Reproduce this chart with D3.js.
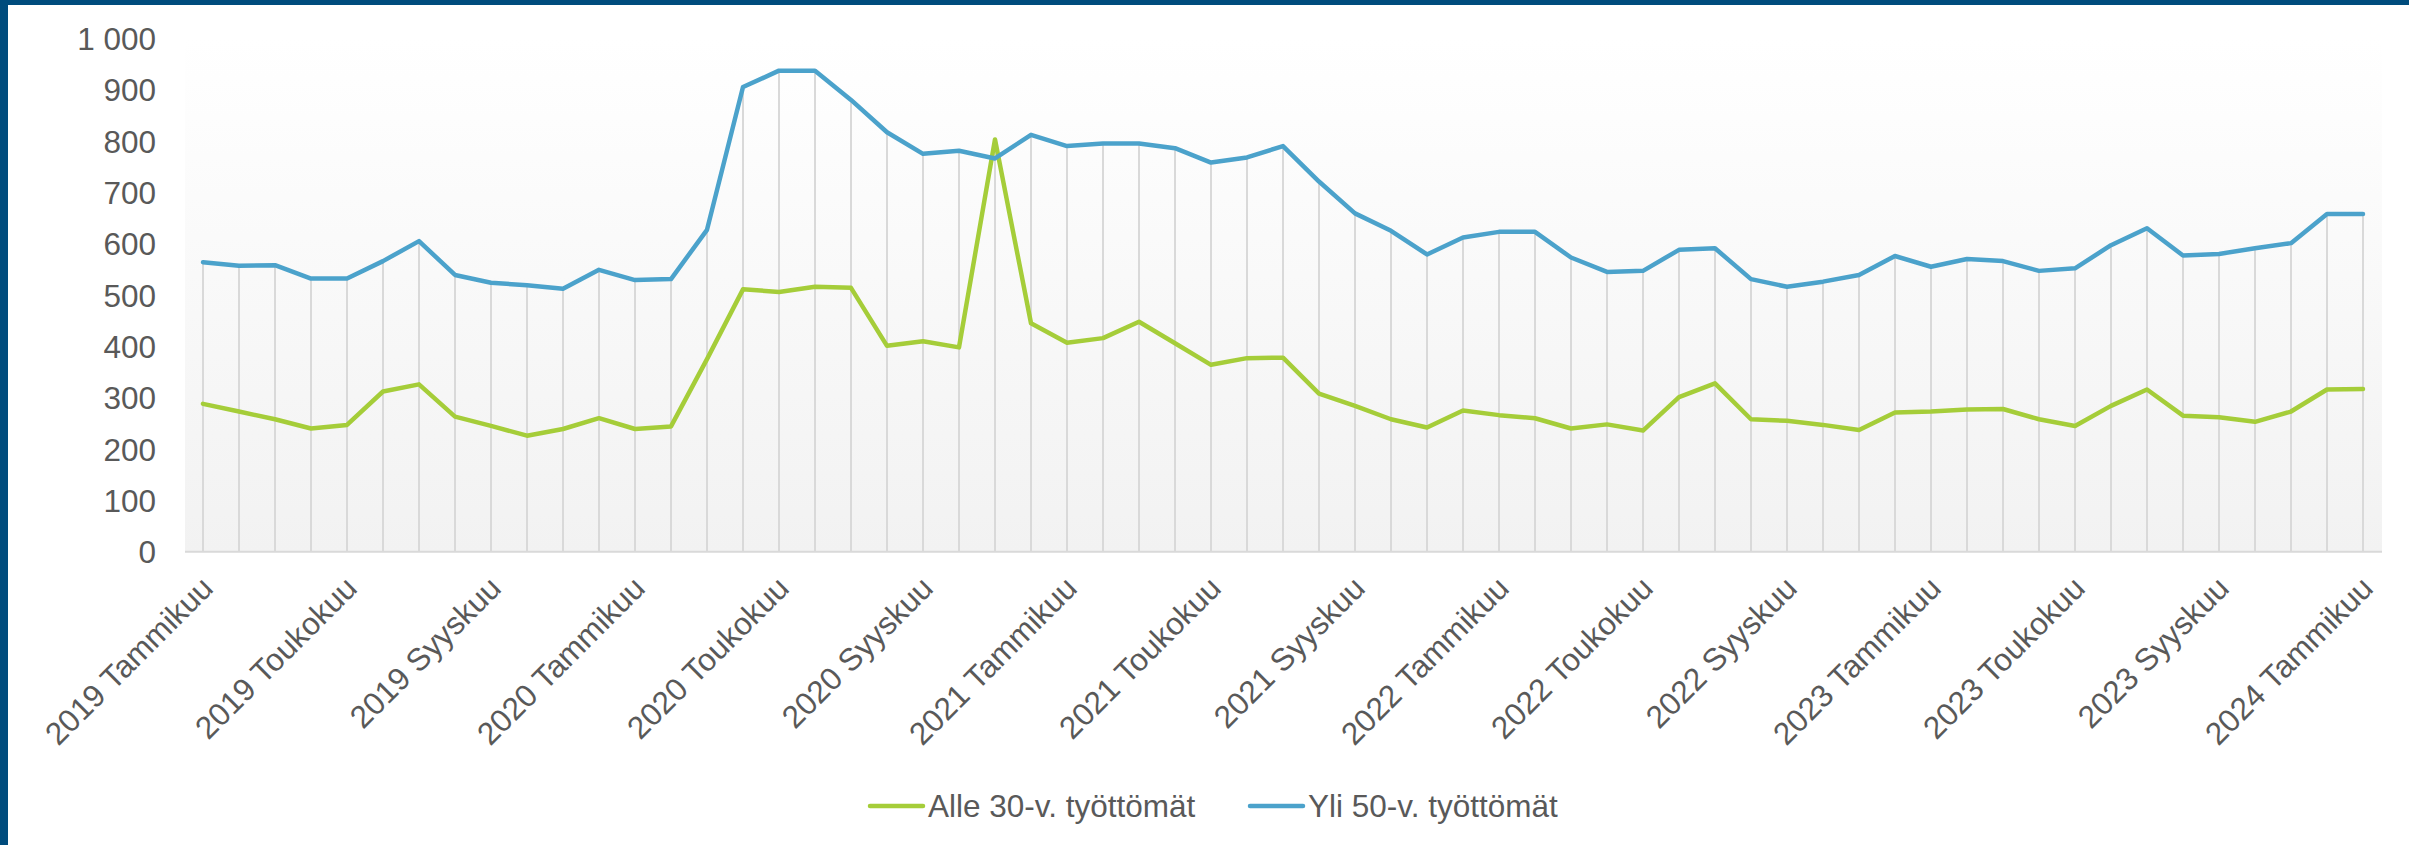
<!DOCTYPE html>
<html><head><meta charset="utf-8">
<script src="https://cdn.jsdelivr.net/npm/d3@7"></script>
<style>
html,body{margin:0;padding:0;background:#fff;}
svg{display:block;font-family:"Liberation Sans",Arial,sans-serif;}
</style></head>
<body>
<svg id="chart" width="2409" height="845"></svg>
<script>
const years = [2019, 2020, 2021, 2022, 2023, 2024];
const monthNames = ["Tammikuu","Helmikuu","Maaliskuu","Huhtikuu","Toukokuu","Kesäkuu","Heinäkuu","Elokuu","Syyskuu","Lokakuu","Marraskuu","Joulukuu"];
const categories = [];
years.forEach(y => monthNames.forEach(m => { if (categories.length < 61) categories.push(y + " " + m); }));

const alle30 = [288,273,258,240,247,312,326,263,245,226,239,260,239,244,375,511,506,516,514,401,
  410,398,803,445,407,416,448,406,364,377,378,308,284,258,242,275,266,260,240,248,
  236,301,328,258,255,247,237,271,273,277,278,258,245,284,316,265,262,253,273,316,317];
const yli50 = [564,557,558,532,532,566,605,539,524,519,512,549,529,531,627,905,937,937,880,817,
  775,781,766,812,790,795,795,786,758,768,790,721,659,625,579,612,623,623,573,545,
  547,588,591,531,516,526,539,576,555,570,566,547,552,597,630,577,580,591,601,658,658];

const tickLabels = ["2019 Tammikuu","2019 Toukokuu","2019 Syyskuu","2020 Tammikuu","2020 Toukokuu","2020 Syyskuu",
  "2021 Tammikuu","2021 Toukokuu","2021 Syyskuu","2022 Tammikuu","2022 Toukokuu","2022 Syyskuu",
  "2023 Tammikuu","2023 Toukokuu","2023 Syyskuu","2024 Tammikuu"];
const yTicks = [0,100,200,300,400,500,600,700,800,900,1000];
const seriesNames = ["Alle 30-v. työttömät","Yli 50-v. työttömät"];
const seriesColors = ["#a5cd39","#4ba2cb"];

const svg = d3.select("#chart");
const plotL = 185, plotR = 2381, plotT = 38.3, plotB = 551.7;

const x = d3.scalePoint().domain(categories).range([plotL, plotR]).padding(0.5);
const y = d3.scaleLinear().domain([0, 1000]).range([plotB, plotT]);

// border
svg.append("rect").attr("x",0).attr("y",0).attr("width",2409).attr("height",5).attr("fill","#004c7d");
svg.append("rect").attr("x",0).attr("y",0).attr("width",8).attr("height",845).attr("fill","#004c7d");

// background gradient
const defs = svg.append("defs");
const grad = defs.append("linearGradient").attr("id","bg").attr("x1",0).attr("y1",0).attr("x2",0).attr("y2",1);
grad.append("stop").attr("offset","0%").attr("stop-color","#ffffff");
grad.append("stop").attr("offset","100%").attr("stop-color","#f2f2f2");
svg.append("rect").attr("x",plotL).attr("y",plotT).attr("width",plotR-plotL+1).attr("height",plotB-plotT)
  .attr("fill","url(#bg)");

// drop lines
svg.append("g").selectAll("line").data(categories).join("line")
  .attr("x1", d => x(d)).attr("x2", d => x(d))
  .attr("y1", (d,i) => y(Math.max(alle30[i], yli50[i])))
  .attr("y2", y(0))
  .attr("stroke","#d9d9d9").attr("stroke-width",2);

// x axis line
svg.append("line").attr("x1",plotL).attr("x2",plotR+1).attr("y1",y(0)).attr("y2",y(0))
  .attr("stroke","#d9d9d9").attr("stroke-width",2);

// y axis labels
const yAxis = d3.axisLeft(y).tickValues(yTicks).tickSize(0).tickPadding(0)
  .tickFormat(d => d3.format(",")(d).replace(/,/g, " "));
const gy = svg.append("g").attr("transform","translate(156,0)").call(yAxis);
gy.select(".domain").remove();
gy.selectAll("text").attr("fill","#595959").style("font-size","31.5px")
  .style("font-family","'Liberation Sans',Arial,sans-serif").attr("dy","0.35em");

// x axis labels
const labelCats = categories.filter((c,i) => i % 4 === 0);
svg.append("g").selectAll("text").data(labelCats).join("text")
  .attr("transform", (d) => `translate(${x(d)+12},${590}) rotate(-45)`)
  .attr("text-anchor","end")
  .attr("fill","#595959").style("font-size","31.5px")
  .text((d,i) => tickLabels[i]);

// lines
const series = [alle30, yli50];
const line = d3.line().x((d,i) => x(categories[i])).y(d => y(d));
svg.append("g").selectAll("path").data(series).join("path")
  .attr("d", d => line(d))
  .attr("fill","none")
  .attr("stroke",(d,i) => seriesColors[i])
  .attr("stroke-width",4.5)
  .attr("stroke-linejoin","round").attr("stroke-linecap","round");

// legend
const legendItems = [{x:870, tx:928}, {x:1250, tx:1308}];
const lg = svg.append("g");
legendItems.forEach((it, i) => {
  lg.append("line").attr("x1",it.x).attr("x2",it.x+53).attr("y1",806).attr("y2",806)
    .attr("stroke",seriesColors[i]).attr("stroke-width",4.5).attr("stroke-linecap","round");
  lg.append("text").attr("x",it.tx).attr("y",817).attr("fill","#595959").style("font-size","31.5px")
    .text(seriesNames[i]);
});
</script>
</body></html>
